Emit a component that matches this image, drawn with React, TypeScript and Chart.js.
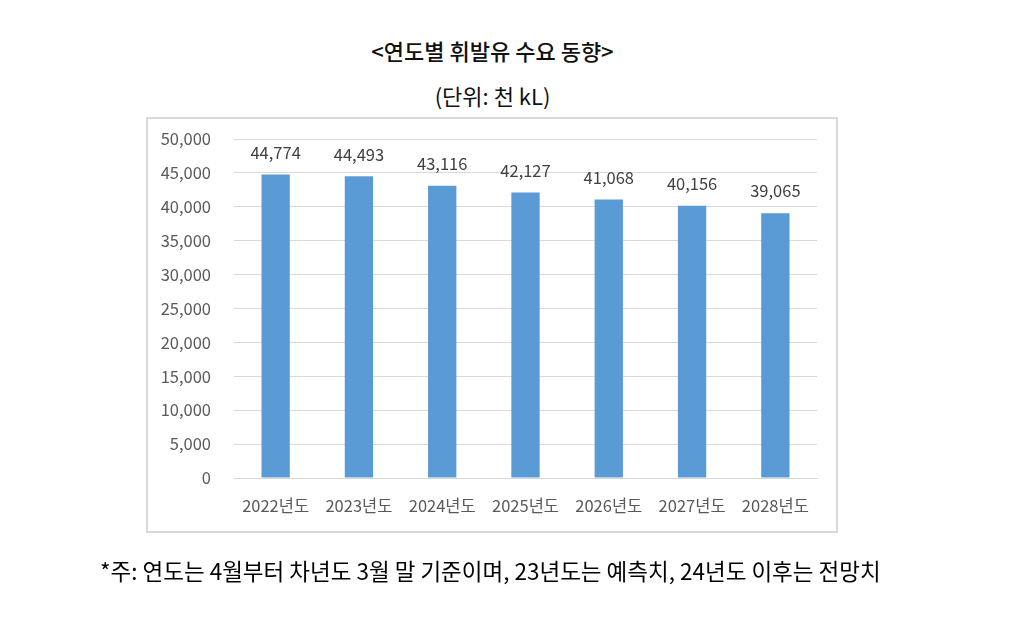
import React, { useEffect, useRef } from "react";
import { Chart, registerables } from "chart.js";

Chart.register(...registerables);

const categories = ["2022년도", "2023년도", "2024년도", "2025년도", "2026년도", "2027년도", "2028년도"];
const demand = [44774, 44493, 43116, 42127, 41068, 40156, 39065];
const yTicks = [0, 5000, 10000, 15000, 20000, 25000, 30000, 35000, 40000, 45000, 50000];

const titleText = "<연도별 휘발유 수요 동향>";
const unitText = "(단위: 천 kL)";
const noteText = "*주: 연도는 4월부터 차년도 3월 말 기준이며, 23년도는 예측치, 24년도 이후는 전망치";

const FONT = "'Noto Sans CJK KR', 'Noto Sans', sans-serif";

const fmt = (v: number) => v.toLocaleString("en-US");

const labelPlugin = {
  id: "barLabels",
  afterDatasetsDraw(chart: any) {
    const ctx = chart.ctx;
    const meta = chart.getDatasetMeta(0);
    ctx.save();
    ctx.font = `16.5px ${FONT}`;
    ctx.fillStyle = "#404040";
    ctx.textAlign = "center";
    ctx.textBaseline = "middle";
    meta.data.forEach((bar: any, i: number) => {
      ctx.fillText(fmt(demand[i]), bar.x, bar.y - 22);
    });
    ctx.restore();
  },
};

export default function App() {
  const ref = useRef<HTMLCanvasElement | null>(null);

  useEffect(() => {
    if (!ref.current) return;
    const chart = new Chart(ref.current, {
      type: "bar",
      data: {
        labels: categories,
        datasets: [
          {
            data: demand,
            backgroundColor: "#5B9BD5",
            borderWidth: 0,
            categoryPercentage: 1,
            barPercentage: 0.34,
          },
        ],
      },
      options: {
        animation: false,
        responsive: false,
        layout: { padding: { left: 150, right: 211, top: 139, bottom: 102 } },
        plugins: { legend: { display: false }, tooltip: { enabled: false }, title: { display: false } },
        scales: {
          x: {
            grid: { display: false, drawTicks: false },
            border: { display: true, color: "#d9d9d9", width: 1 },
            ticks: { color: "#595959", font: { family: FONT, size: 16.5 }, padding: 18, maxRotation: 0, autoSkip: false },
            afterFit: (s: any) => { s.height = 40; },
          },
          y: {
            min: 0,
            max: 50000,
            afterBuildTicks: (s: any) => { s.ticks = yTicks.map((v) => ({ value: v })); },
            grid: { color: "#d9d9d9", lineWidth: 1, drawTicks: false },
            border: { display: false },
            ticks: {
              color: "#595959",
              font: { family: FONT, size: 16.5 },
              padding: 23,
              callback: (v: any) => fmt(Number(v)),
            },
            afterFit: (s: any) => { s.width = 84; },
          },
        },
      },
      plugins: [labelPlugin],
    });
    return () => chart.destroy();
  }, []);

  return (
    <div style={{ position: "fixed", left: 0, top: 0, width: 1028, height: 620, background: "#fff", fontFamily: FONT }}>
      <div style={{ position: "absolute", left: 0, width: 985, top: 36, textAlign: "center", fontSize: 22, fontWeight: 500, color: "#111", lineHeight: "28px" }}>
        {titleText}
      </div>
      <div style={{ position: "absolute", left: 0, width: 985, top: 81, textAlign: "center", fontSize: 22, color: "#111", lineHeight: "28px" }}>
        {unitText}
      </div>
      <div style={{ position: "absolute", left: 146, top: 117, width: 688, height: 412, border: "2px solid #d9d9d9" }} />
      <canvas ref={ref} width={1028} height={620} style={{ position: "absolute", left: 0, top: 0 }} />
      <div style={{ position: "absolute", left: 100, top: 556, fontSize: 22.5, color: "#000", lineHeight: "28px", whiteSpace: "nowrap" }}>
        {noteText}
      </div>
    </div>
  );
}
